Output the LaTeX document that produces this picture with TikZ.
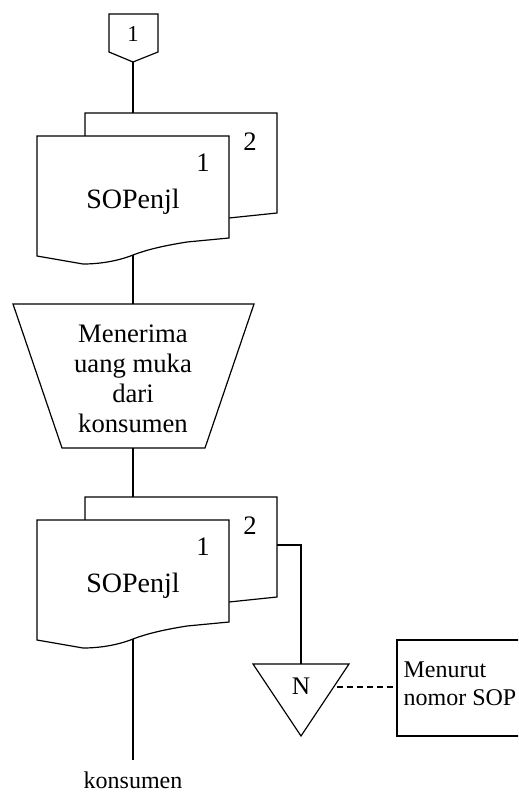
\documentclass[tikz,border=0pt]{standalone}
\usepackage{fontspec}
\setmainfont{Liberation Serif}
\begin{document}
\begin{tikzpicture}[x=0.75pt,y=-0.75pt,line width=0.9pt,
  shapeline/.style={draw=black,fill=white,line join=miter},
  flow/.style={draw=black},
  lbl/.style={inner sep=0pt,font=\fontsize{20}{22}\selectfont},
  docpair/.pic={
    % copy 2 (behind)
    \path[shapeline] (85,136) -- (85,113) -- (277,113) -- (277,213) -- (229,218) -- (85,218) -- cycle;
    \coordinate (-top) at (133,113);
    \coordinate (-side) at (277,161);
    % copy 1 (front) with wavy bottom edge
    \path[shapeline] (37,136) -- (229,136) -- (229,238) -- (187,242)
      .. controls (162,246) and (146,250) .. (133,255)
      .. controls (118,261) and (100,264) .. (83,264) -- (37,256) -- cycle;
    \coordinate (-bottom) at (133,255);
    \node[lbl] (-two) at (250,142) {2};
    \node[lbl] (-one) at (203,163) {1};
    \node[inner sep=0pt,font=\fontsize{21}{24}\selectfont] (-name) at (133,202) {SOPenjl};
  }]
\useasboundingbox (0,0) rectangle (518,792);
\clip (0,0) rectangle (518,792);

% off-page connector
\path[shapeline] (109,14) -- (158,14) -- (158,52) -- (133,62) -- (109,52) -- cycle;
\node[inner sep=0pt,font=\fontsize{17}{19}\selectfont] (conn) at (133,34) {1};
\coordinate (connb) at (133,62);

% first document pair
\pic (d1) at (0,0) {docpair};

% manual operation
\path[shapeline] (13,304) -- (254,304) -- (205,448) -- (62,448) -- cycle;
\coordinate (optop) at (133,304);
\coordinate (opbot) at (133,448);
\node[align=center,inner sep=0pt,font=\fontsize{20}{22.5}\selectfont] (op) at (133,379)
  {Menerima\\uang muka\\dari\\konsumen};

% second document pair
\pic (d2) at (0,384) {docpair};

% file (triangle)
\path[shapeline] (253,664) -- (349,664) -- (301,736) -- cycle;
\coordinate (filetop) at (301,664);
\coordinate (fileedge) at (337,687);
\node[inner sep=0pt,font=\fontsize{19}{21}\selectfont] (file) at (301,686) {N};

% note box
\path[shapeline] (397,640) rectangle (540,736);
\coordinate (noteleft) at (397,687);
\node[anchor=west,align=left,inner sep=0pt,font=\fontsize{18}{21}\selectfont] (note) at (403,684)
  {Menurut\\nomor SOP};

% end label
\coordinate (endpt) at (133,760);
\node[inner sep=0pt,font=\fontsize{18}{20}\selectfont] (dest) at (133,780) {konsumen};

% connectors
\draw[flow] (connb) -- (d1-top);
\draw[flow] (d1-bottom) -- (optop);
\draw[flow] (opbot) -- (d2-top);
\draw[flow] (d2-bottom) -- (endpt);
\draw[flow] (d2-side) -| (filetop);
\draw[flow,dash pattern=on 4.5pt off 3pt] (fileedge) -- (noteleft);
\end{tikzpicture}
\end{document}
